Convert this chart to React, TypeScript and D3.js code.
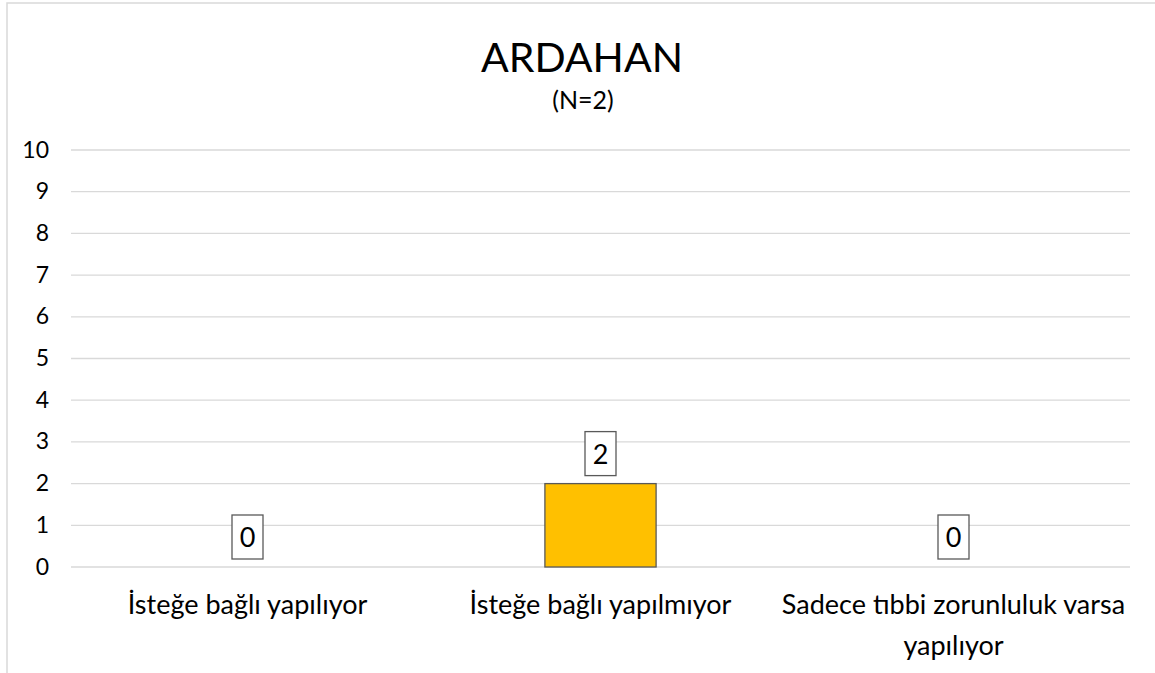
import React from "react";
import * as d3 from "d3";

const categories: string[][] = [
  ["İsteğe bağlı yapılıyor"],
  ["İsteğe bağlı yapılmıyor"],
  ["Sadece tıbbi zorunluluk varsa", "yapılıyor"],
];
const values: number[] = [0, 2, 0];
const yTicks: number[] = [0, 1, 2, 3, 4, 5, 6, 7, 8, 9, 10];
const title = "ARDAHAN";
const subtitle = "(N=2)";

const W = 1155;
const H = 673;
const FONT = "Lato, 'Open Sans', sans-serif";

export default function App() {
  const left = 71;
  const right = 1130;
  const top = 150;
  const bottom = 567;
  const x = d3
    .scaleBand<number>()
    .domain(categories.map((_, i) => i))
    .range([left, right]);
  const y = d3.scaleLinear().domain([0, 10]).range([bottom, top]);
  const barW = x.bandwidth() * 0.315;

  return (
    <svg
      width={W}
      height={H}
      style={{ position: "absolute", left: 0, top: 0, background: "#fff" }}
      fontFamily={FONT}
    >
      <rect x={0} y={0} width={W} height={H} fill="#fff" />
      <rect x={7} y={3} width={W + 20} height={H + 20} fill="#fff" stroke="#d9d9d9" strokeWidth={1.5} />
      <text x={582} y={72} textAnchor="middle" fontSize={41} fill="#000">
        {title}
      </text>
      <text x={583} y={109} textAnchor="middle" fontSize={25} fill="#000">
        {subtitle}
      </text>
      {yTicks.map((t) => (
        <g key={t}>
          <line x1={left} x2={right} y1={y(t)} y2={y(t)} stroke="#d9d9d9" strokeWidth={1.3} />
          <text x={49} y={y(t) + 7.5} textAnchor="end" fontSize={23} fill="#000">
            {t}
          </text>
        </g>
      ))}
      {values.map((v, i) => {
        const cx = (x(i) as number) + x.bandwidth() / 2;
        const yTop = y(v);
        const bw = 31;
        const bh = 44;
        const boxBottom = yTop - 8;
        return (
          <g key={i}>
            {v > 0 && (
              <rect
                x={cx - barW / 2}
                y={yTop}
                width={barW}
                height={bottom - yTop}
                fill="#ffc000"
                stroke="#595959"
                strokeWidth={1.3}
              />
            )}
            <rect
              x={cx - bw / 2}
              y={boxBottom - bh}
              width={bw}
              height={bh}
              fill="#fff"
              stroke="#595959"
              strokeWidth={1.3}
            />
            <text x={cx} y={boxBottom - bh / 2 + 10} textAnchor="middle" fontSize={27} fill="#000">
              {v}
            </text>
            {categories[i].map((line, j) => (
              <text
                key={j}
                x={cx}
                y={614 + j * 41}
                textAnchor="middle"
                fontSize={27}
                fill="#000"
              >
                {line}
              </text>
            ))}
          </g>
        );
      })}
    </svg>
  );
}
